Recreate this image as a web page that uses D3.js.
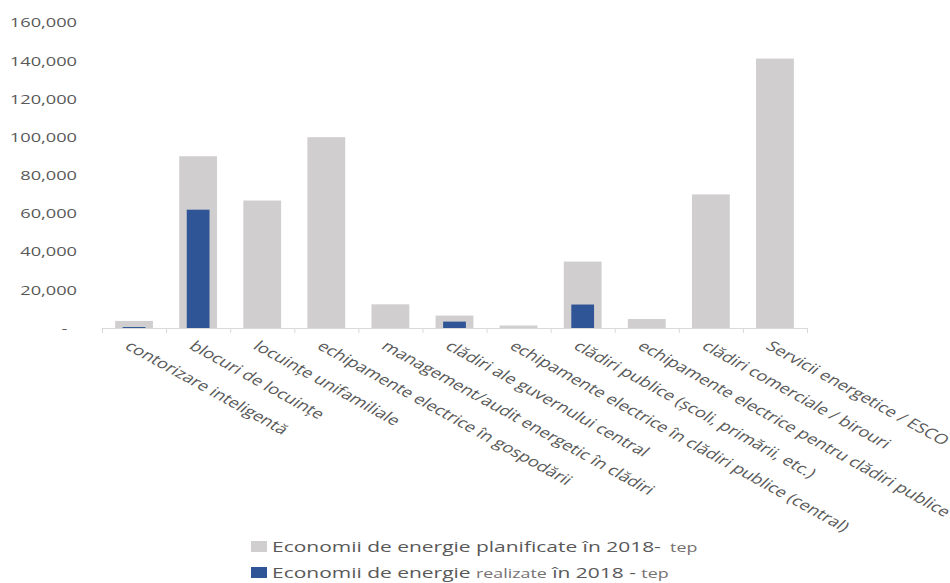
<!DOCTYPE html>
<html>
<head>
<meta charset="utf-8">
<script src="https://cdn.jsdelivr.net/npm/d3@7"></script>
<style>
  body { margin: 0; background: #fff; }
  text { font-family: "Open Sans", sans-serif; fill: #595959; }
</style>
</head>
<body>
<script>
// categories and values (tep)
var categories = [
    "contorizare inteligentă",
    "blocuri de locuințe",
    "locuințe unifamiliale",
    "echipamente electrice în gospodării",
    "management/audit energetic în clădiri",
    "clădiri ale guvernului central",
    "echipamente electrice în clădiri publice (central)",
    "clădiri publice (școli, primării, etc.)",
    "echipamente electrice pentru clădiri publice",
    "clădiri comerciale / birouri",
    "Servicii energetice / ESCO"
];
var planned = [3700, 90000, 66800, 100000, 12400, 6500, 1300, 34800, 4700, 70000, 141200];
var achieved = [500, 62000, 0, 0, 0, 3350, 0, 12300, 0, 0, 0];
var yTicks = [0, 20000, 40000, 60000, 80000, 100000, 120000, 140000, 160000];

var legendRows = [
    [{t: "Economii de energie planificate în 2018-", big: true}, {t: "  tep", big: false}],
    [{t: "Economii de energie ", big: true}, {t: "realizate", big: false}, {t: " în 2018 - ", big: true}, {t: "tep", big: false}]
];
var legendColors = ["#d0cece", "#2f5597"];

var width = 950, height = 583;
var SX = 1.37; // text looks horizontally stretched in the source
var THETA = 37;

var svg = d3.select("body").append("svg")
    .attr("width", width)
    .attr("height", height);

var x = d3.scaleBand()
    .domain(d3.range(categories.length))
    .range([102, 807])
    .padding(0);

var y = d3.scaleLinear()
    .domain([0, 160000])
    .range([328, 22.7]);

var grayW = x.bandwidth() * 0.59,
    blueW = x.bandwidth() * 0.355;

//planned bars
svg.selectAll(".planned")
    .data(planned)
    .enter()
    .append("rect")
    .attr("class", "planned")
    .attr("x", function (d, i) { return x(i) + (x.bandwidth() - grayW) / 2; })
    .attr("y", function (d) { return y(d); })
    .attr("width", grayW)
    .attr("height", function (d) { return y(0) - y(d); })
    .attr("fill", "#d0cece");

//achieved bars
svg.selectAll(".achieved")
    .data(achieved)
    .enter()
    .append("rect")
    .attr("class", "achieved")
    .attr("x", function (d, i) { return x(i) + (x.bandwidth() - blueW) / 2; })
    .attr("y", function (d) { return y(d); })
    .attr("width", blueW)
    .attr("height", function (d) { return y(0) - y(d); })
    .attr("fill", "#2f5597");

//y axis, labels only
var yAxis = svg.append("g")
    .attr("transform", "translate(77,0)")
    .call(d3.axisLeft(y)
        .tickValues(yTicks)
        .tickSize(0)
        .tickPadding(0)
        .tickFormat(function (d) { return d === 0 ? "-" : d3.format(",")(d); }));
yAxis.select(".domain").remove();
yAxis.selectAll("text")
    .attr("font-size", 13.3)
    .attr("font-family", "Open Sans")
    .attr("fill", "#595959")
    .attr("x", function (d) { return d === 0 ? -7 : 0; })
    .attr("transform", "scale(" + SX + ",1)");

//x axis line with ticks between categories
var xb = d3.scaleLinear().domain([0, categories.length]).range([102, 807]);
var xAxis = svg.append("g")
    .attr("transform", "translate(0," + y(0) + ")")
    .call(d3.axisBottom(xb)
        .ticks(categories.length)
        .tickSize(5)
        .tickSizeOuter(5)
        .tickFormat(""));
xAxis.selectAll("path, line").attr("stroke", "#d9d9d9");

//rotated category labels
svg.selectAll(".xlabel")
    .data(categories)
    .enter()
    .append("text")
    .attr("class", "xlabel")
    .attr("transform", function (d, i) {
        var cx = x(i) + x.bandwidth() / 2 - 2;
        return "translate(" + cx + ",340) scale(" + SX + ",1) rotate(" + THETA + ")";
    })
    .attr("dy", "0.72em")
    .attr("font-size", 13.8)
    .text(function (d) { return d; });

//legend
var legend = svg.selectAll(".legend")
    .data(legendRows)
    .enter()
    .append("g")
    .attr("class", "legend")
    .attr("transform", function (d, i) { return "translate(251," + (541 + i * 26) + ")"; });

legend.append("rect")
    .attr("width", 16)
    .attr("height", 11)
    .attr("fill", function (d, i) { return legendColors[i]; });

legend.append("text")
    .attr("transform", "translate(21,11) scale(" + SX + ",1)")
    .selectAll("tspan")
    .data(function (d) { return d; })
    .enter()
    .append("tspan")
    .attr("font-size", function (d) { return d.big ? 15.3 : 13; })
    .attr("fill", function (d) { return d.big ? "#595959" : "#767171"; })
    .style("white-space", "pre")
    .text(function (d) { return d.t; });
</script>
</body>
</html>
